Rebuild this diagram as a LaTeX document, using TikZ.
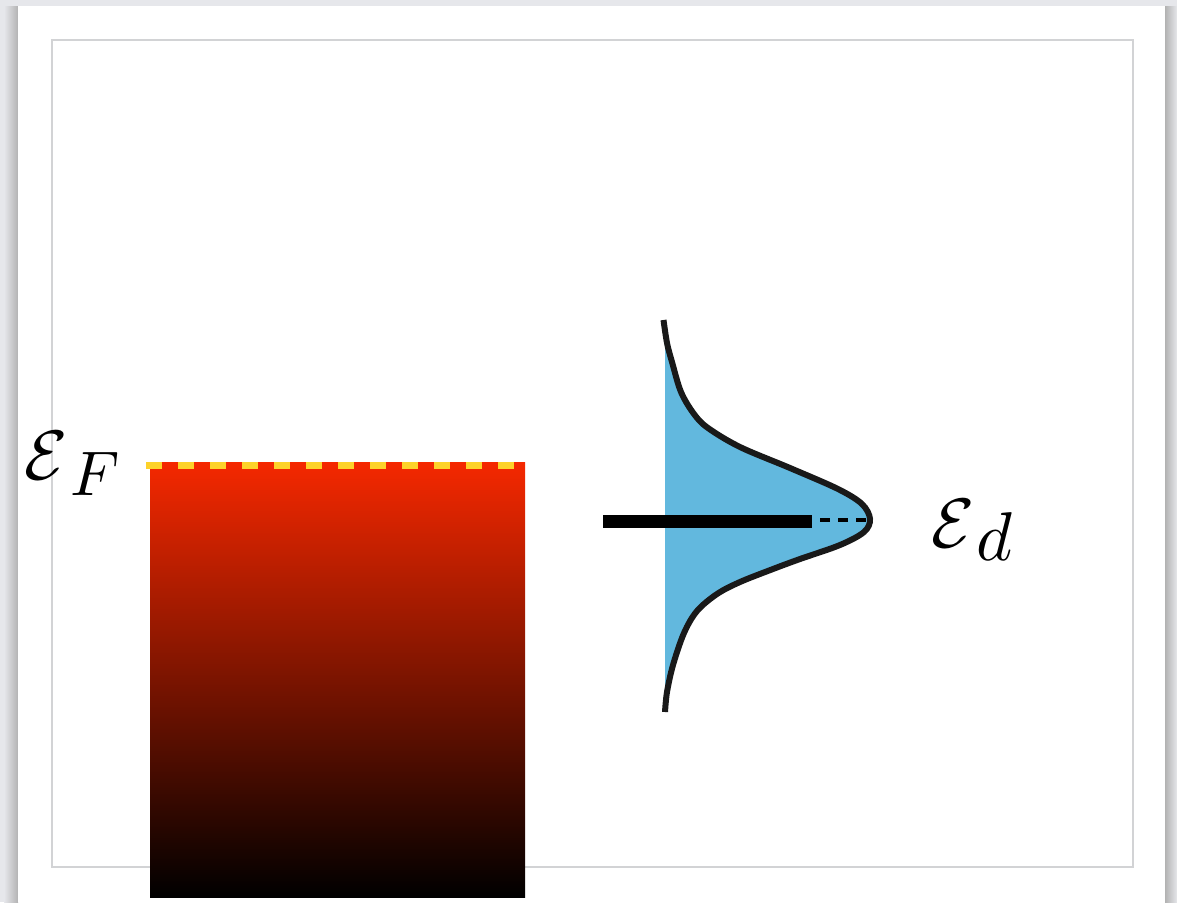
\documentclass[tikz,border=0pt]{standalone}
\usepackage{graphicx}
\definecolor{pagebg}{HTML}{E6E7EB}
\definecolor{framegray}{HTML}{D2D3D5}
\definecolor{fermired}{HTML}{F52800}
\definecolor{fermiyellow}{HTML}{FDD22A}
\definecolor{dosblue}{HTML}{62B8DE}
\tikzset{
  framebox/.style={draw=framegray, line width=2.5pt},
  levelbar/.style={line width=13pt},
  peakline/.style={line width=4pt, dash pattern=on 10pt off 8pt, dash phase=-8pt},
  fermiline/.style={draw=fermiyellow, line width=7pt, dash pattern=on 16pt off 16pt},
  lorentz/.style={draw=black!90, line width=6pt},
  lbl/.style={inner sep=0pt, anchor=base west}
}
\newcommand{\dospath}{plot[smooth, tension=0.55] coordinates {
  (663.5,320) (667,343) (672,362) (681,392) (694,414) (708,428) (740,447)
  (790,468) (838,489) (862,504) (870,519) (864,532) (840,545) (800,559)
  (773,569) (740,582) (717,594) (697,611) (684,633) (673,665) (667,692) (665,712)}}
\begin{document}
\begin{tikzpicture}[x=1pt,y=-1pt]
\useasboundingbox (0,0) rectangle (1177,902);
% page background and card
\fill[pagebg] (0,0) rectangle (1177,902);
\shade[left color=pagebg, right color=black!30] (4,6) rectangle (18,902);
\shade[left color=black!30, right color=pagebg] (1165,6) rectangle (1177,902);
\fill[white] (18,6) rectangle (1165,902);
\draw[framebox] (52,40) rectangle (1133,867);
% Fermi sea
\shade[top color=fermired, bottom color=black] (150,462) rectangle (525,897);
\coordinate (fL) at (146,465.5);
\coordinate (fR) at (525,465.5);
\draw[fermiline] (fL) -- (fR);
\node[lbl] (eF) at (24,479) {\scalebox{7.0}{$\mathcal{E}$}};
\node[lbl] (F) at (70,495) {\scalebox{6.3}{$F$}};
% Lorentzian density of states
\fill[dosblue] \dospath -- (665,712) -- (665,320) -- cycle;
\fill[white] (640,300) rectangle (665,730);
\draw[lorentz] \dospath;
\coordinate (peak) at (870,519.5);
\coordinate (barL) at (603,521.5);
\coordinate (barR) at (812,521.5);
\coordinate (dashL) at (812,519.5);
\draw[levelbar] (barL) -- (barR);
\draw[peakline] (dashL) -- (peak);
\node[lbl] (ed) at (931,547) {\scalebox{7.0}{$\mathcal{E}$}};
\node[lbl] (d) at (976,560) {\scalebox{6.9}{$d$}};
\end{tikzpicture}
\end{document}
